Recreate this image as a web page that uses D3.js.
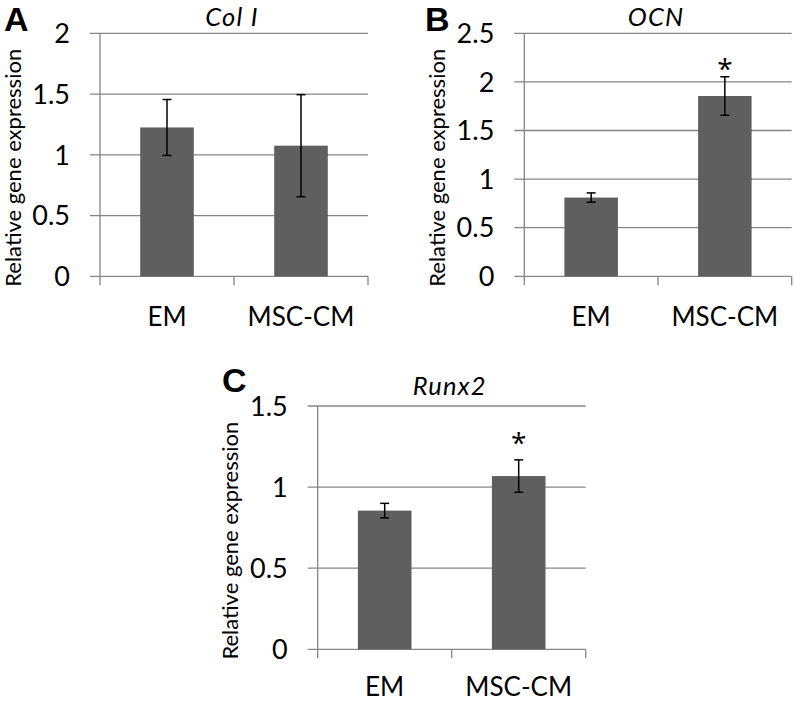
<!DOCTYPE html>
<html><head><meta charset="utf-8">
<script src="https://cdn.jsdelivr.net/npm/d3@7"></script>
<style>
html,body{margin:0;padding:0;background:#fff;}
svg{display:block;}
text{font-family:Lato,"Open Sans",sans-serif;fill:#000;}
</style></head>
<body>
<svg id="chart" width="794" height="702"></svg>
<script>
// ---- data ----
const categories = ["EM", "MSC-CM"];
const panelLetters = ["A", "B", "C"];
const geneTitles = ["Col I", "OCN", "Runx2"];
const col1Means = [1.225, 1.075];
const col1Errors = [0.23, 0.42];
const ocnMeans = [0.81, 1.855];
const ocnErrors = [0.048, 0.198];
const runx2Means = [0.855, 1.068];
const runx2Errors = [0.045, 0.1];
const col1Ticks = [0, 0.5, 1, 1.5, 2];
const ocnTicks = [0, 0.5, 1, 1.5, 2, 2.5];
const runx2Ticks = [0, 0.5, 1, 1.5];
const significant = [[false, false], [false, true], [false, true]];
const yTitle = "Relative gene expression";

// ---- layout (not data) ----
const W = 794, H = 702;
const layout = [
  {x0: 100, x1: 368, y0: 33.3, y1: 276.3, lx: 4, ly: 31},
  {x0: 524.3, x1: 791.7, y0: 33.3, y1: 276.3, lx: 425, ly: 31},
  {x0: 317.7, x1: 585.7, y0: 406, y1: 649.3, lx: 222, ly: 391.5}
];
const means = [col1Means, ocnMeans, runx2Means];
const errs = [col1Errors, ocnErrors, runx2Errors];
const ticks = [col1Ticks, ocnTicks, runx2Ticks];

const svg = d3.select("#chart");
const gridColor = "#868686";
const barColor = "#5f5f5f";
const starSize = 28;

layout.forEach((L, i) => {
  const tv = ticks[i];
  const y = d3.scaleLinear().domain([0, d3.max(tv)]).range([L.y1, L.y0]);
  const x = d3.scaleBand().domain(categories).range([L.x0, L.x1]).paddingInner(0.6).paddingOuter(0.3);
  const xb = d3.scaleBand().domain(categories).range([L.x0, L.x1]);
  const g = svg.append("g");

  // gridlines + y tick labels
  g.selectAll(null).data(tv).join("line")
    .attr("x1", L.x0 - 10).attr("x2", L.x1)
    .attr("y1", d => y(d)).attr("y2", d => y(d))
    .attr("stroke", gridColor).attr("stroke-width", 1.3);
  g.selectAll(null).data(tv).join("text")
    .attr("x", L.x0 - 30).attr("y", d => y(d))
    .attr("text-anchor", "end").attr("dy", "0.36em")
    .style("font-size", "27px")
    .text(d => d3.format("")(d));

  // y axis line
  g.append("line").attr("x1", L.x0).attr("x2", L.x0).attr("y1", L.y0).attr("y2", L.y1 + 9)
    .attr("stroke", gridColor).attr("stroke-width", 1.3);
  // category ticks
  const bounds = categories.map(c => xb(c)).concat([L.x1]);
  g.selectAll(null).data(bounds.slice(1)).join("line")
    .attr("x1", d => d).attr("x2", d => d).attr("y1", L.y1).attr("y2", L.y1 + 9)
    .attr("stroke", gridColor).attr("stroke-width", 1.3);

  // bars
  const data = categories.map((c, k) => ({c, m: means[i][k], e: errs[i][k], s: significant[i][k]}));
  g.selectAll(null).data(data).join("rect")
    .attr("x", d => x(d.c)).attr("width", x.bandwidth())
    .attr("y", d => y(d.m)).attr("height", d => y(0) - y(d.m))
    .attr("fill", barColor);

  // error bars
  const cx = d => x(d.c) + x.bandwidth() / 2;
  g.selectAll(null).data(data).join("line")
    .attr("x1", cx).attr("x2", cx)
    .attr("y1", d => y(d.m - d.e)).attr("y2", d => y(d.m + d.e))
    .attr("stroke", "#000").attr("stroke-width", 1.5);
  [-1, 1].forEach(sgn => {
    g.selectAll(null).data(data).join("line")
      .attr("x1", d => cx(d) - 4.5).attr("x2", d => cx(d) + 4.5)
      .attr("y1", d => y(d.m + sgn * d.e))
      .attr("y2", d => y(d.m + sgn * d.e))
      .attr("stroke", "#000").attr("stroke-width", 1.5);
  });

  // significance stars (glyph centre placed ~0.137 units above the error cap)
  g.selectAll(null).data(data.filter(d => d.s)).join("text")
    .attr("x", cx).attr("y", d => y(d.m + d.e + 0.137) + starSize * 0.56)
    .attr("text-anchor", "middle")
    .style("font-family", "'Open Sans', sans-serif")
    .style("font-size", starSize + "px")
    .text("*");

  // x labels
  g.selectAll(null).data(categories).join("text")
    .attr("class", "fit")
    .attr("x", c => xb(c) + xb.bandwidth() / 2).attr("y", L.y1 + 50)
    .attr("text-anchor", "middle").style("font-size", "26px")
    .text(c => c);

  // gene title
  g.append("text").attr("class", "fit")
    .attr("x", (L.x0 + L.x1) / 2 - 2).attr("y", L.y0 - 11.5)
    .attr("text-anchor", "middle").style("font-size", "25.5px").style("font-style", "italic")
    .style("letter-spacing", "1.2px")
    .text(geneTitles[i]);

  // y title
  g.append("text")
    .attr("transform", `translate(${L.x0 - 87},${(L.y0 + L.y1) / 2 + 13}) rotate(-90)`)
    .attr("text-anchor", "middle").attr("dy", "0.35em")
    .style("font-size", "22px")
    .text(yTitle);

  // panel letter
  g.append("text").attr("class", "fit").attr("x", L.lx).attr("y", L.ly)
    .style("font-family", "'Liberation Sans', Arial, sans-serif")
    .style("font-weight", "bold").style("font-size", "34px")
    .text(panelLetters[i]);
});

// keep text boxes inside the canvas
svg.selectAll("text.fit").each(function () {
  const b = this.getBBox();
  const yy = +this.getAttribute("y");
  if (b.y < 0) this.setAttribute("y", yy - b.y + 0.5);
  else if (b.y + b.height > H) this.setAttribute("y", yy - (b.y + b.height - H) - 0.5);
});
</script>
</body></html>
